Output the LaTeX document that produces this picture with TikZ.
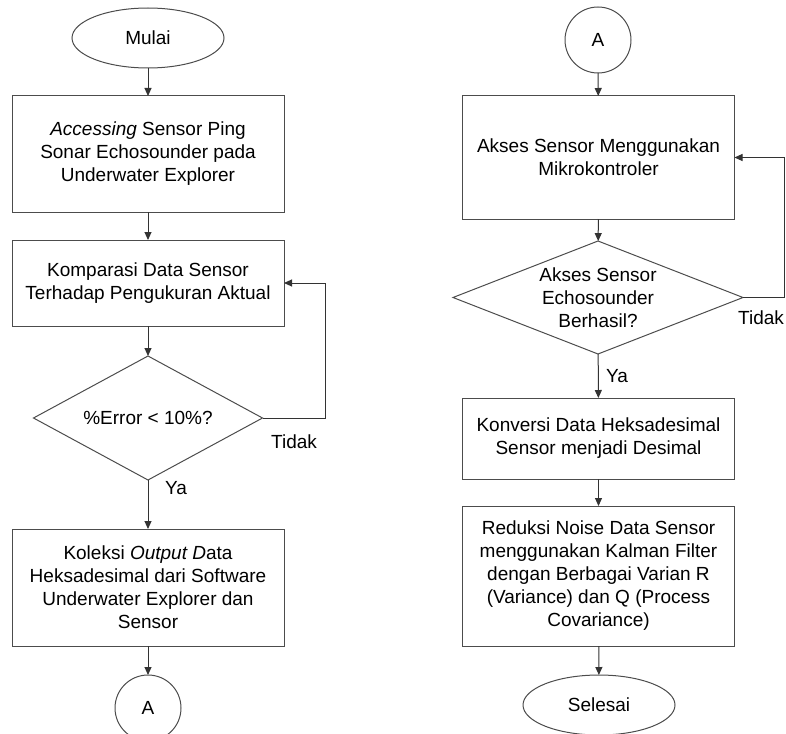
\documentclass[tikz,border=0pt]{standalone}
\usepackage{fontspec}
\setmainfont{Liberation Sans}
\usetikzlibrary{shapes.geometric,arrows.meta}

\begin{document}
\begin{tikzpicture}[x=1pt, y=-1pt,
    every node/.style={font=\fontsize{19}{23}\selectfont, align=center, inner sep=0pt, outer sep=0pt},
    box/.style={draw=black!70, line width=1pt, minimum width=272pt},
    term/.style={draw=black!70, line width=1pt, ellipse, minimum width=152pt, minimum height=60pt},
    konektor/.style={draw=black!70, line width=1pt, circle, minimum size=66pt},
    cek/.style={draw=black!70, line width=1pt, diamond},
    flow/.style={draw=black!80, line width=1pt, -{Triangle[width=7pt,length=8pt]}}]
    \useasboundingbox (0,0) rectangle (786,733);
    \node[term] (mulai) at (148,38) {Mulai};
    \node[box, minimum height=116pt] (akses) at (148,154) {\textit{Accessing} Sensor Ping\\Sonar Echosounder pada\\Underwater Explorer};
    \node[box, minimum height=86pt] (komparasi) at (148,283) {Komparasi Data Sensor\\Terhadap Pengukuran Aktual};
    \node[cek, aspect=1.85, minimum width=229pt, minimum height=124pt] (error) at (148,418) {\%Error < 10\%?};
    \node[box, minimum height=117pt] (koleksi) at (148,587.5) {Koleksi \textit{Output D}ata\\Heksadesimal dari Software\\Underwater Explorer dan\\Sensor};
    \node[konektor] (akiri) at (148,708) {A};
    \node[konektor] (akanan) at (598,40) {A};
    \node[box, minimum height=123pt] (mikro) at (598.5,157.5) {Akses Sensor Menggunakan\\Mikrokontroler};
    \node[cek, aspect=2.57, minimum width=290pt, minimum height=113pt] (berhasil) at (598,297.5) {Akses Sensor\\Echosounder\\Berhasil?};
    \node[box, minimum height=81pt] (konversi) at (598.5,438.5) {Konversi Data Heksadesimal\\Sensor menjadi Desimal};
    \node[box, minimum height=140pt] (reduksi) at (598.5,576) {Reduksi Noise Data Sensor\\menggunakan Kalman Filter\\dengan Berbagai Varian R\\(Variance) dan Q (Process\\Covariance)};
    \node[term] (selesai) at (599,705) {Selesai};
    \node (tidakkiri) at (294,442) {Tidak};
    \node (yakiri) at (176,488) {Ya};
    \node (tidakkanan) at (761,318) {Tidak};
    \node (yakanan) at (617,376) {Ya};
    \coordinate (sudutkiri) at (325,418);
    \coordinate (sudutkanan) at (784,297.5);
    \draw[flow] (mulai) -- (akses);
    \draw[flow] (akses) -- (komparasi);
    \draw[flow] (komparasi) -- (error);
    \draw[flow] (error) -- (koleksi);
    \draw[flow] (koleksi) -- (akiri);
    \draw[flow] (error.east) -- (sudutkiri) |- (komparasi.east);
    \draw[flow] (akanan) -- (mikro);
    \draw[flow] (mikro) -- (berhasil);
    \draw[flow] (berhasil) -- (konversi);
    \draw[flow] (konversi) -- (reduksi);
    \draw[flow] (reduksi) -- (selesai);
    \draw[flow] (berhasil.east) -- (sudutkanan) |- (mikro.east);
\end{tikzpicture}
\end{document}
